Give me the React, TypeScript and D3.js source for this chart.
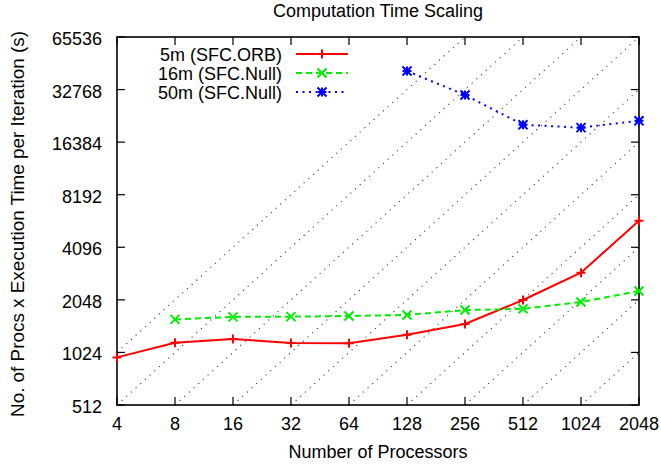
import React from "react";
import * as d3 from "d3";

const procs = [4, 8, 16, 32, 64, 128, 256, 512, 1024, 2048];
const yTicks = [512, 1024, 2048, 4096, 8192, 16384, 32768, 65536];

const orbProcs = [4, 8, 16, 32, 64, 128, 256, 512, 1024, 2048];
const orbValues = [959, 1164, 1222, 1160, 1155, 1293, 1489, 2044, 2928, 5816];

const null16Procs = [8, 16, 32, 64, 128, 256, 512, 1024, 2048];
const null16Values = [1583, 1636, 1641, 1656, 1678, 1790, 1821, 1990, 2301];

const null50Procs = [128, 256, 512, 1024, 2048];
const null50Values = [41840, 30500, 20620, 19830, 21740];

// constant lines: y = c * x
const idealConstants = [256, 128, 64, 32, 16, 8, 4, 2, 1, 0.5];

const W = 661, H = 465;
const L = 117, R = 639, T = 37, B = 405;
const FONT = "'Liberation Sans', Arial, sans-serif";

type Series = {
  name: string;
  xs: number[];
  ys: number[];
  color: string;
  dash: string | undefined;
  marker: "plus" | "cross" | "star";
};

const series: Series[] = [
  { name: "5m (SFC.ORB)", xs: orbProcs, ys: orbValues, color: "#ff0000", dash: undefined, marker: "plus" },
  { name: "16m (SFC.Null)", xs: null16Procs, ys: null16Values, color: "#00ee00", dash: "6,4", marker: "cross" },
  { name: "50m (SFC.Null)", xs: null50Procs, ys: null50Values, color: "#0000ff", dash: "2,4.5", marker: "star" },
];

function Marker({ x, y, kind, color }: { x: number; y: number; kind: string; color: string }) {
  const s = 4.5;
  const plus = `M${x - s},${y}L${x + s},${y}M${x},${y - s}L${x},${y + s}`;
  const cross = `M${x - s},${y - s}L${x + s},${y + s}M${x - s},${y + s}L${x + s},${y - s}`;
  const d = kind === "plus" ? plus : kind === "cross" ? cross : plus + cross;
  return <path d={d} stroke={color} strokeWidth={2} fill="none" />;
}

export default function App() {
  const x = d3.scaleLog().base(2).domain([4, 2048]).range([L, R]);
  const y = d3.scaleLog().base(2).domain([512, 65536]).range([B, T]);

  const diag = idealConstants.map((c) => {
    const x0 = Math.max(4, 512 / c);
    const x1 = Math.min(2048, 65536 / c);
    return { x0, y0: c * x0, x1, y1: c * x1 };
  });

  const legendY = [54, 73, 92];

  return (
    <svg width={W} height={H} style={{ position: "absolute", left: 0, top: 0, background: "#fff" }} fontFamily={FONT}>
      <rect width={W} height={H} fill="#fff" />
      {/* diagonal reference lines */}
      <g stroke="#333" strokeWidth={1.1} strokeDasharray="1.1,5.2" fill="none">
        {diag.map((d, i) =>
          d.x1 > d.x0 ? (
            <line key={i} x1={x(d.x0)} y1={y(d.y0)} x2={x(d.x1)} y2={y(d.y1)} />
          ) : null
        )}
      </g>
      {/* frame */}
      <rect x={L} y={T} width={R - L} height={B - T} fill="none" stroke="#000" strokeWidth={1.6} />
      {/* x ticks */}
      {procs.map((p) => (
        <g key={p}>
          <line x1={x(p)} x2={x(p)} y1={B} y2={B - 8} stroke="#000" strokeWidth={1.2} />
          <line x1={x(p)} x2={x(p)} y1={T} y2={T + 8} stroke="#000" strokeWidth={1.2} />
          <text x={x(p)} y={430} textAnchor="middle" fontSize={18} fill="#000">{p}</text>
        </g>
      ))}
      {/* y ticks */}
      {yTicks.map((v) => (
        <g key={v}>
          <line x1={L} x2={L + 8} y1={y(v)} y2={y(v)} stroke="#000" strokeWidth={1.2} />
          <line x1={R} x2={R - 8} y1={y(v)} y2={y(v)} stroke="#000" strokeWidth={1.2} />
          <text x={102} y={y(v) + 8} textAnchor="end" fontSize={18} fill="#000">{v}</text>
        </g>
      ))}
      {/* series */}
      {series.map((s) => {
        const line = d3
          .line<number>()
          .x((_, i) => x(s.xs[i]))
          .y((v) => y(v));
        return (
          <g key={s.name}>
            <path d={line(s.ys) || ""} fill="none" stroke={s.color} strokeWidth={2} strokeDasharray={s.dash} />
            {s.ys.map((v, i) => (
              <Marker key={i} x={x(s.xs[i])} y={y(v)} kind={s.marker} color={s.color} />
            ))}
          </g>
        );
      })}
      {/* legend */}
      {series.map((s, i) => (
        <g key={s.name}>
          <text x={282} y={legendY[i] + 6.5} textAnchor="end" fontSize={18} fill="#000">{s.name}</text>
          <line x1={296} x2={348} y1={legendY[i]} y2={legendY[i]} stroke={s.color} strokeWidth={2} strokeDasharray={s.dash} />
          <Marker x={322} y={legendY[i]} kind={s.marker} color={s.color} />
        </g>
      ))}
      {/* titles */}
      <text x={378} y={17} textAnchor="middle" fontSize={18} fill="#000">Computation Time Scaling</text>
      <text x={378} y={458} textAnchor="middle" fontSize={18} fill="#000">Number of Processors</text>
      <text
        transform="translate(24,224) rotate(-90)"
        textAnchor="middle"
        fontSize={18}
        fill="#000"
        textLength={386}
        lengthAdjust="spacingAndGlyphs"
      >
        No. of Procs x Execution Time per Iteration (s)
      </text>
    </svg>
  );
}
